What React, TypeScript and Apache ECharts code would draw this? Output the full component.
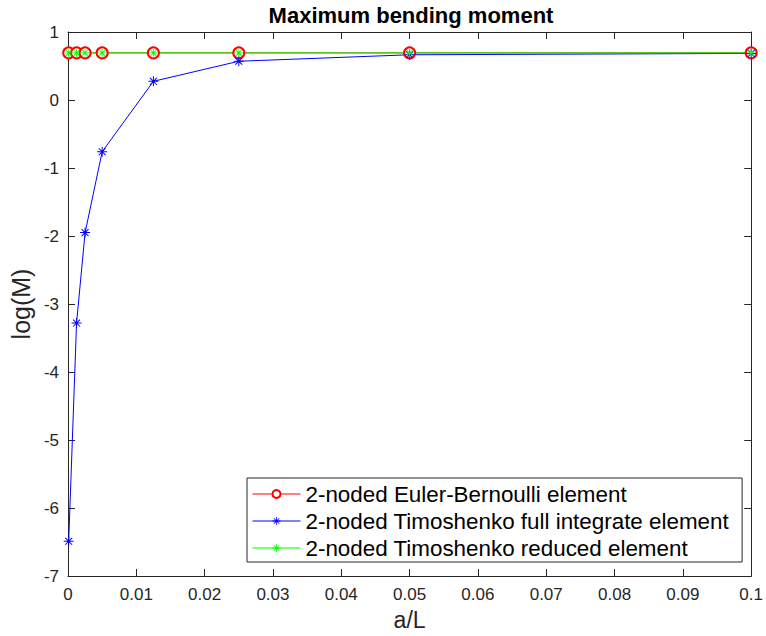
import React, { useEffect, useRef } from "react";
import * as echarts from "echarts";

const xValues = [0.0001, 0.00125, 0.0025, 0.005, 0.0125, 0.025, 0.05, 0.1];
const eulerBernoulli = [0.693, 0.693, 0.693, 0.693, 0.693, 0.693, 0.693, 0.693];
const timoshenkoFull = [-6.49, -3.28, -1.95, -0.76, 0.275, 0.57, 0.665, 0.685];
const timoshenkoReduced = [0.693, 0.693, 0.693, 0.693, 0.693, 0.693, 0.693, 0.693];
const seriesNames = [
  "2-noded Euler-Bernoulli element",
  "2-noded Timoshenko full integrate element",
  "2-noded Timoshenko reduced element",
];

const FONT = "Liberation Sans";
const ASTERISK =
  "path://M0,4.5H10V5.5H0Z M4.5,0H5.5V10H4.5Z M1.2,1.9L1.9,1.2L8.8,8.1L8.1,8.8Z M8.1,1.2L8.8,1.9L1.9,8.8L1.2,8.1Z";

export default function App() {
  const ref = useRef<HTMLDivElement>(null);
  useEffect(() => {
    if (!ref.current) return;
    const chart = echarts.init(ref.current, undefined, { renderer: "svg" });
    const pair = (ys: number[]) => xValues.map((x, i) => [x, ys[i]]);
    const axisCommon = {
      axisLine: { show: true, onZero: false, lineStyle: { color: "#262626", width: 1 } },
      axisTick: { show: true, inside: true, length: 7, lineStyle: { color: "#262626" } },
      splitLine: { show: false },
    };
    chart.setOption({
      animation: false,
      backgroundColor: "#ffffff",
      title: {
        text: "Maximum bending moment",
        left: 411,
        top: 4,
        padding: 0,
        textAlign: "center",
        textStyle: { fontFamily: FONT, fontSize: 22, fontWeight: "bold", color: "#000" },
      },
      grid: { left: 64, right: 7, top: 32, bottom: 56, containLabel: false },
      xAxis: [
        {
          type: "value",
          min: 0,
          max: 0.1,
          interval: 0.01,
          name: "a/L",
          nameLocation: "middle",
          nameGap: 32,
          nameTextStyle: { fontFamily: FONT, fontSize: 23, color: "#262626" },
          axisLabel: { fontFamily: FONT, fontSize: 17, color: "#262626", margin: 10 },
          ...axisCommon,
        },
        {
          type: "value",
          position: "top",
          min: 0,
          max: 0.1,
          interval: 0.01,
          axisLabel: { show: false },
          ...axisCommon,
        },
      ],
      yAxis: [
        {
          type: "value",
          min: -7,
          max: 1,
          interval: 1,
          name: "log(M)",
          nameLocation: "middle",
          nameGap: 26,
          nameTextStyle: { fontFamily: FONT, fontSize: 25, color: "#262626" },
          axisLabel: { fontFamily: FONT, fontSize: 17, color: "#262626", margin: 9 },
          ...axisCommon,
        },
        {
          type: "value",
          position: "right",
          min: -7,
          max: 1,
          interval: 1,
          axisLabel: { show: false },
          ...axisCommon,
        },
      ],
      legend: {
        orient: "vertical",
        left: 247,
        top: 478,
        backgroundColor: "#fff",
        borderColor: "#262626",
        borderWidth: 1,
        padding: [5, 13, 3, 5],
        itemGap: 5,
        itemWidth: 48,
        itemHeight: 10,
        lineStyle: { width: 1 },
        itemStyle: { borderWidth: 1 },
        textStyle: { fontFamily: FONT, fontSize: 22.4, color: "#000" },
        data: seriesNames,
      },
      series: [
        {
          name: seriesNames[0],
          type: "line",
          data: pair(eulerBernoulli),
          symbol: "emptyCircle",
          symbolSize: 11,
          showAllSymbol: true,
          lineStyle: { color: "#ff0000", width: 1 },
          itemStyle: { color: "#ff0000", borderColor: "#ff0000", borderWidth: 1 },
        },
        {
          name: seriesNames[1],
          type: "line",
          data: pair(timoshenkoFull),
          symbol: ASTERISK,
          symbolSize: 10,
          lineStyle: { color: "#0000ff", width: 1 },
          itemStyle: { color: "#0000ff" },
        },
        {
          name: seriesNames[2],
          type: "line",
          data: pair(timoshenkoReduced),
          symbol: ASTERISK,
          symbolSize: 8,
          lineStyle: { color: "#00ff00", width: 1 },
          itemStyle: { color: "#00ff00" },
        },
      ],
    });
    return () => chart.dispose();
  }, []);
  return (
    <div
      ref={ref}
      style={{ position: "absolute", left: 0, top: 0, width: 766, height: 636 }}
    />
  );
}
